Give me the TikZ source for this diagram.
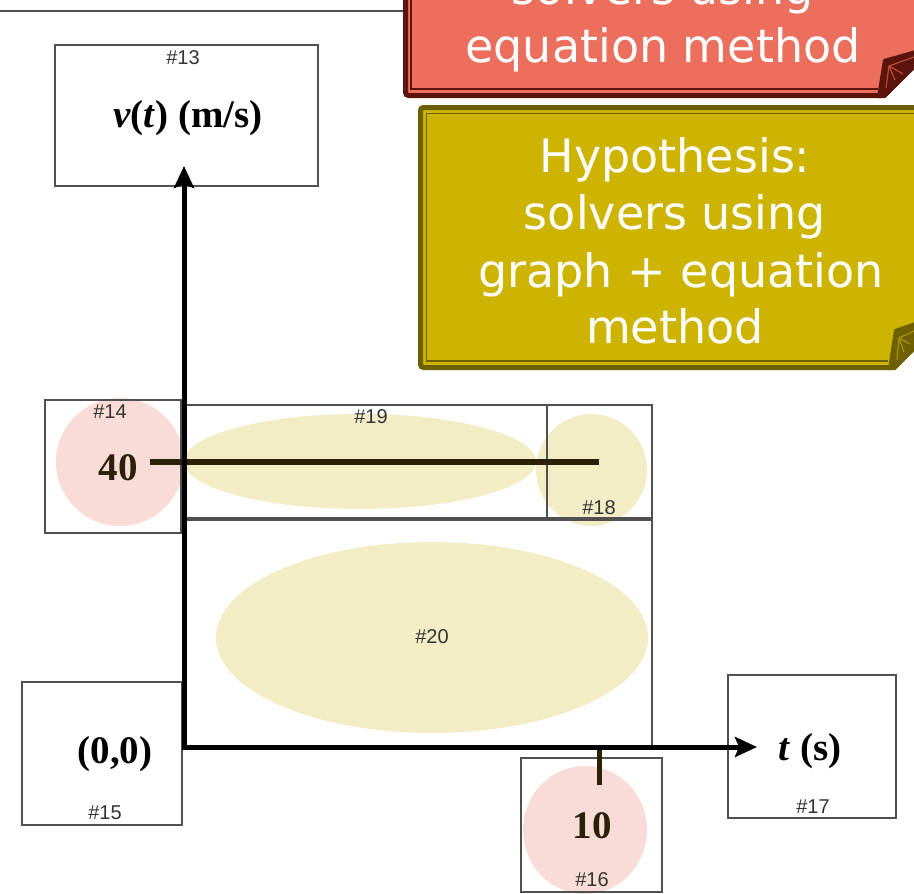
\documentclass[tikz,border=0pt]{standalone}
\usepackage{fontspec}
\setmainfont{Liberation Serif}
\newfontfamily\labfont{Liberation Sans}
\newfontfamily\callfont{DejaVu Sans}
\usetikzlibrary{arrows.meta}
\definecolor{redfill}{HTML}{EC6E5C}
\definecolor{redborder}{HTML}{5B150D}
\definecolor{redflap}{HTML}{B9493B}
\definecolor{yelfill}{HTML}{CDB400}
\definecolor{yelborder}{HTML}{6E6000}
\definecolor{yelflap}{HTML}{A89300}
\definecolor{pinkblob}{HTML}{F9DCD8}
\definecolor{yelblob}{HTML}{F3EDC6}
\definecolor{boxline}{HTML}{505050}
\definecolor{darkline}{HTML}{2B2008}
\tikzset{
  cellbox/.style={draw=boxline, line width=1.3pt, inner sep=0pt, fill=none},
  hashlab/.style={font=\labfont\fontsize{20}{24}\selectfont, text=black!80, inner sep=0pt},
  bigtxt/.style={font=\fontsize{39}{46}\selectfont\bfseries, inner sep=0pt},
  axisline/.style={line width=5pt, black, -{Stealth[length=22pt,width=20pt,inset=4pt]}},
  levelline/.style={line width=5.5pt, darkline},
  calltxt/.style={font=\callfont\fontsize{46}{57}\selectfont, text=white, inner sep=0pt, anchor=base},
}
\begin{document}
\begin{tikzpicture}[x=1pt,y=-1pt]
\useasboundingbox (0,0) rectangle (914,894);
\clip (0,0) rectangle (914,894);

% top line
\coordinate (tl) at (0,11);
\coordinate (tr) at (404,11);
\draw[boxline, line width=1.5pt] (tl) -- (tr);

% red callout
\path[fill=redfill, draw=redborder, line width=5pt, rounded corners=3pt]
  (405.5,-30) -- (405.5,95.5) -- (884,95.5) -- (930,50) -- (930,-30) -- cycle;
\draw[redborder, line width=1.5pt] (411,-30) -- (411,89) -- (878,89);
\path[fill=redborder, draw=redborder, line width=2pt, line join=round]
  (878,97) -- (884,60) -- (930,47) -- (930,52) -- (885,97) -- cycle;
\draw[redflap, line width=1.2pt] (886,88) -- (889,66) -- (914,57);
\draw[redflap, line width=1.2pt] (889,66) -- (903,74) (889,66) -- (895,80);
\node[calltxt] (r1) at (663,5) {solvers using};
\node[calltxt] (r2) at (663,62) {equation method};

% yellow callout
\path[fill=yelfill, draw=yelborder, line width=5pt, rounded corners=3pt]
  (420.5,107.5) -- (420.5,367.5) -- (894,367.5) -- (930,332) -- (930,107.5) -- cycle;
\draw[yelborder, line width=1.5pt] (426.5,130) -- (426.5,113.5) -- (930,113.5);
\draw[yelborder, line width=1.5pt] (426.5,113.5) -- (426.5,361) -- (888,361);
\path[fill=yelborder, draw=yelborder, line width=2pt, line join=round]
  (889,369) -- (895,330) -- (930,318) -- (930,333) -- (895,369) -- cycle;
\draw[yelflap, line width=1.2pt] (897,360) -- (899,338) -- (914,331);
\draw[yelflap, line width=1.2pt] (899,338) -- (910,344) (899,338) -- (904,352);
\node[calltxt] (y1) at (675,172) {Hypothesis:};
\node[calltxt] (y2) at (675,229) {solvers using};
\node[calltxt] (y3) at (681,287) {graph + equation};
\node[calltxt] (y4) at (675,343) {method};

% highlight blobs
\fill[pinkblob] (120,462) ellipse [x radius=64, y radius=64];
\fill[pinkblob] (585,830) ellipse [x radius=62, y radius=64];
\fill[yelblob] (360,461.5) ellipse [x radius=176, y radius=47.5];
\fill[yelblob] (591.5,470) ellipse [x radius=55.5, y radius=56];
\fill[yelblob] (432,637.5) ellipse [x radius=216, y radius=95.5];

% boxes
\node[cellbox, minimum width=263pt, minimum height=141pt] (b13) at (186.5,115.5) {};
\node[cellbox, minimum width=136pt, minimum height=133pt] (b14) at (113,466.5) {};
\node[cellbox, minimum width=160pt, minimum height=143pt] (b15) at (102,753.5) {};
\node[cellbox, minimum width=141pt, minimum height=134pt] (b16) at (591.5,825) {};
\node[cellbox, minimum width=168pt, minimum height=143pt] (b17) at (812,746.5) {};
\node[cellbox, minimum width=364pt, minimum height=113pt] (b19) at (365,461.5) {};
\node[cellbox, minimum width=105pt, minimum height=113pt] (b18) at (599.5,461.5) {};
\node[cellbox, minimum width=469pt, minimum height=228pt] (b20) at (417.5,634) {};

% axes
\coordinate (O) at (184,747);
\coordinate (vtip) at (184,166);
\coordinate (htip) at (757,747);
\coordinate (l40a) at (150,462);
\coordinate (l40b) at (599,462);
\coordinate (t10a) at (599,747);
\coordinate (t10b) at (599,785);
\draw[levelline] (l40a) -- (l40b);
\draw[line width=5pt, darkline] (t10a) -- (t10b);
\draw[axisline] (O) -- (vtip);
\draw[axisline] ([xshift=-2.5pt]O) -- (htip);

% main labels
\node[bigtxt] (vt) at (188,118) {\textit{v}(\textit{t}) (m/s)};
\node[bigtxt, text=darkline] (n40) at (118,468) {40};
\node[bigtxt] (n00) at (115,754) {(0,0)};
\node[bigtxt, text=darkline] (n10) at (592,826) {10};
\node[bigtxt] (ts) at (810,751) {\textit{t} (s)};

% hash labels
\node[hashlab] (h13) at (183,58) {\#13};
\node[hashlab] (h14) at (110,412) {\#14};
\node[hashlab] (h15) at (105,813) {\#15};
\node[hashlab] (h16) at (592,880) {\#16};
\node[hashlab] (h17) at (813,807) {\#17};
\node[hashlab] (h18) at (599,508) {\#18};
\node[hashlab] (h19) at (371,417) {\#19};
\node[hashlab] (h20) at (432,637) {\#20};
\end{tikzpicture}
\end{document}
